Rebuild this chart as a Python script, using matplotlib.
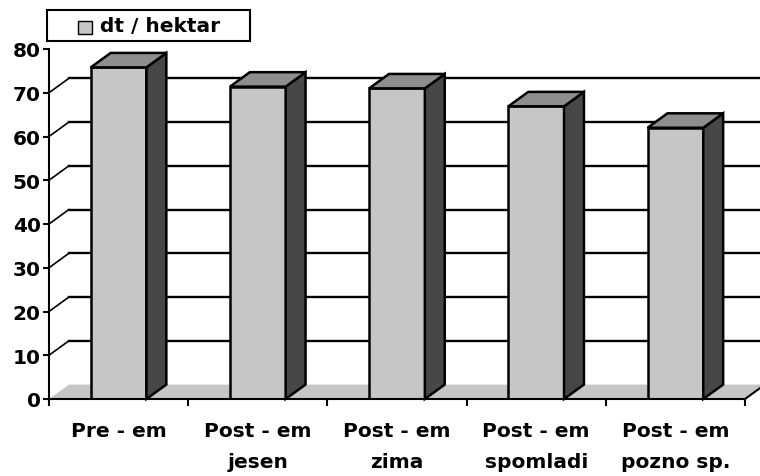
import matplotlib
matplotlib.use("Agg")
import matplotlib.pyplot as plt
from matplotlib.patches import Polygon, Rectangle

# data
categories = ["Pre - em", "Post - em\njesen", "Post - em\nzima",
              "Post - em\nspomladi", "Post - em\npozno sp."]
yields = [75.8, 71.4, 71.0, 66.9, 62.0]
series_name = "dt / hektar"
y_ticks = [0, 10, 20, 30, 40, 50, 60, 70, 80]

# pseudo-3d look
front_col = "#c6c6c6"
side_col = "#474747"
top_col = "#8e8e8e"
floor_col = "#c6c6c6"
bar_w = 0.40
dx = 0.143   # depth offset in category units
dy = 3.3     # depth offset in value units

plt.rcParams["font.family"] = ["DejaVu Sans"]
plt.rcParams["font.weight"] = "bold"

fig = plt.figure(figsize=(7.6, 4.77), dpi=100)
ax = fig.add_axes([49 / 760, 77 / 477, 696 / 760, 350 / 477])
ax.set_xlim(-0.5, len(categories) - 0.5)
ax.set_ylim(0, 80)

x_left, x_right = -0.5, len(categories) - 0.5

# floor
ax.add_patch(Polygon([(x_left, 0), (x_right, 0), (x_right + dx, dy), (x_left + dx, dy)],
                     closed=True, facecolor=floor_col, edgecolor="none", zorder=1,
                     clip_on=False))
ax.plot([x_right, x_right + dx], [0, dy], color="black", lw=1.5, zorder=1,
        clip_on=False)

# back wall gridlines and the slanted connectors from the axis
for v in y_ticks[1:-1]:
    ax.plot([x_left + dx, x_right + 0.5], [v + dy, v + dy], color="black",
            lw=1.7, zorder=1, clip_on=False)
    ax.plot([x_left, x_left + dx], [v, v + dy], color="black", lw=1.2,
            zorder=1, clip_on=False)

# bars: front faces through ax.bar, then side and top faces
xs = list(range(len(categories)))
bars = ax.bar(xs, yields, width=bar_w, color=front_col, edgecolor="black",
              linewidth=1.8, zorder=3)
for x, v in zip(xs, yields):
    x0 = x - bar_w / 2
    x1 = x + bar_w / 2
    ax.add_patch(Polygon([(x1, 0), (x1 + dx, dy), (x1 + dx, v + dy), (x1, v)],
                         closed=True, facecolor=side_col, edgecolor="black",
                         lw=1.8, zorder=3, clip_on=False))
    ax.add_patch(Polygon([(x0, v), (x1, v), (x1 + dx, v + dy), (x0 + dx, v + dy)],
                         closed=True, facecolor=top_col, edgecolor="black",
                         lw=1.8, zorder=3, clip_on=False))

# axes
for s in ["top", "right"]:
    ax.spines[s].set_visible(False)
ax.spines["left"].set_linewidth(1.5)
ax.spines["bottom"].set_linewidth(1.5)
ax.spines["left"].set_zorder(4)
ax.spines["bottom"].set_zorder(4)

ax.set_yticks(y_ticks)
ax.tick_params(axis="y", direction="out", length=4, width=1.5, pad=2,
               labelsize=14.5)
ax.set_xticks(xs)
ax.set_xticklabels(categories, fontsize=14.5, fontweight="bold",
                   linespacing=1.8)
ax.tick_params(axis="x", which="major", length=0, pad=16)
ax.set_xticks([x - 0.5 for x in xs] + [x_right], minor=True)
ax.tick_params(axis="x", which="minor", direction="out", length=5, width=1.5)
for lab in ax.get_yticklabels():
    lab.set_fontweight("bold")

# legend box
fig.patches.append(Rectangle((47 / 760, 1 - 42 / 477), 203 / 760, 31 / 477,
                             transform=fig.transFigure, facecolor="white",
                             edgecolor="black", lw=1.5))
fig.patches.append(Rectangle((78 / 760, 1 - 35 / 477), 14 / 760, 13 / 477,
                             transform=fig.transFigure, facecolor=front_col,
                             edgecolor="black", lw=1.0))
fig.text(100 / 760, 1 - 27 / 477, series_name, fontsize=14.5,
         fontweight="bold", va="center", ha="left")

fig.savefig("out.png", dpi=100)
